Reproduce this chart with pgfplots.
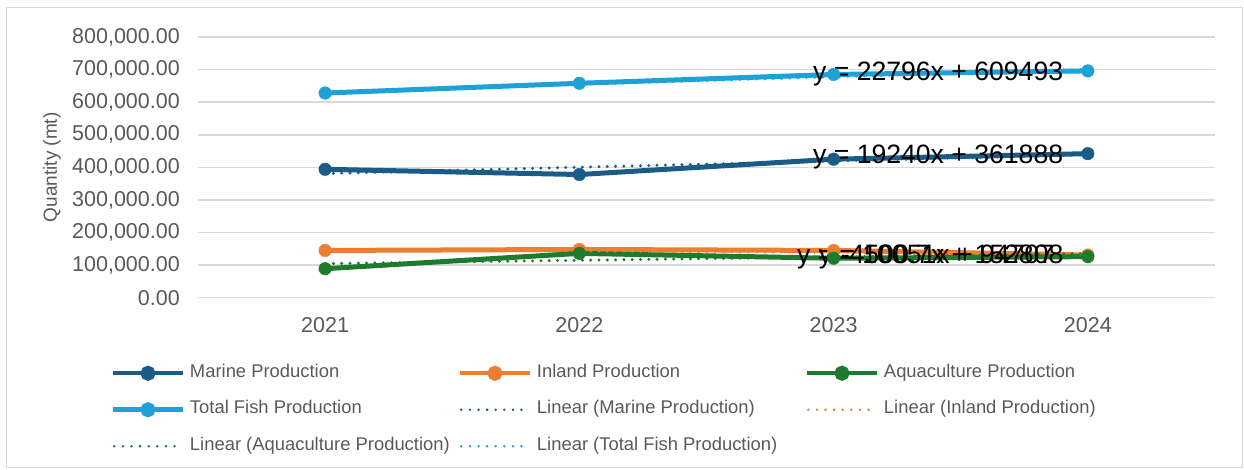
\documentclass[border=0pt]{standalone}
\usepackage{pgfplots}
\pgfplotsset{compat=1.18}
\usepackage{fontspec}
\setmainfont{Liberation Sans}

\definecolor{marine}{HTML}{1B5B87}
\definecolor{inland}{HTML}{ED7D31}
\definecolor{aqua}{HTML}{1E7A2C}
\definecolor{total}{HTML}{1EA1D9}
\definecolor{gridgray}{HTML}{D9D9D9}
\definecolor{textgray}{HTML}{595959}

\newcommand\tickfont{\fontsize{21.5}{25}\selectfont}
\newcommand\legfont{\fontsize{18.4}{22}\selectfont}
\newcommand\labfont{\fontsize{19}{22}\selectfont}
\newcommand\eqfont{\fontsize{26.6}{30}\selectfont}
\newcommand\legtxt[1]{\makebox[263pt][l]{#1}}

\pgfplotsset{
  series/.style={color=#1, line width=5pt, mark=*, mark size=6.3pt,
    mark options={solid, line width=0.4pt, fill=#1, draw=#1},
    legend image code/.code={
      \draw[##1, line width=4.5pt, mark=none] (0pt,0pt) -- (70pt,0pt);
      \fill[##1] (35pt,0pt) circle (5pt);}},
  trend/.style={color=#1, line width=3.3pt, line cap=round,
    dash pattern=on 0pt off 8.3pt, mark=none,
    legend image code/.code={
      \draw[##1, line width=2.8pt, dash pattern=on 0pt off 8.6pt] (1.35pt,0pt) -- (70pt,0pt);}},
}

\begin{document}
\begin{tikzpicture}
\useasboundingbox (0,0) rectangle (1244pt,470pt);
\draw[gridgray, line width=1pt] (6.7pt,2.5pt) rectangle (1242.7pt,462.7pt);
\begin{axis}[
  at={(198pt,172.3pt)}, anchor=south west,
  scale only axis, width=1017pt, height=260.7pt,
  xmin=0.5, xmax=4.5, ymin=0, ymax=800000,
  xtick={1,2,3,4}, xticklabels={2021,2022,2023,2024},
  ytick={0,100000,...,800000},
  scaled y ticks=false,
  yticklabel style={/pgf/number format/fixed, /pgf/number format/fixed zerofill,
    /pgf/number format/precision=2, /pgf/number format/1000 sep={,},
    /pgf/number format/assume math mode=true,
    anchor=east, xshift=-18pt},
  xticklabel style={/pgf/number format/assume math mode=true,
    anchor=north, yshift=-19.5pt},
  tick label style={font=\tickfont, text=textgray, inner sep=0pt},
  axis line style={draw=none}, tick style={draw=none},
  ymajorgrids, major grid style={gridgray, line width=1.5pt},
  ylabel={Quantity (mt)},
  every axis y label/.style={at={(axis description cs:-0.1436,0.5)},
    rotate=90, anchor=center, font=\labfont, text=textgray},
  clip=false,
  legend columns=3, legend cell align=left,
  legend style={at={(axis description cs:-0.0858,-0.2547)}, anchor=north west,
    draw=none, fill=none, inner sep=0pt, outer sep=0pt,
    font=\legfont, text=textgray,
    /tikz/column sep=4.75pt, /tikz/row sep=18.2pt,
    nodes={inner sep=0pt, text height=13.2pt, text depth=5.1pt}},
]
% production series
\addplot[series=marine] coordinates {(1,394000) (2,378000) (3,425000) (4,442000)};
\addlegendentry{\legtxt{Marine Production}}
\addplot[series=inland] coordinates {(1,145000) (2,148000) (3,145000) (4,131000)};
\addlegendentry{\legtxt{Inland Production}}
\addplot[series=aqua] coordinates {(1,89000) (2,136000) (3,121000) (4,126000)};
\addlegendentry{\legtxt{Aquaculture Production}}
\addplot[series=total] coordinates {(1,628000) (2,658000) (3,685000) (4,696000)};
\addlegendentry{\legtxt{Total Fish Production}}
% linear trend lines, end points from the fitted equations
\addplot[trend=marine] coordinates {(1,381128) (4,438848)};
\addlegendentry{\legtxt{Linear (Marine Production)}}
\addplot[trend=inland] coordinates {(1,148307) (4,134805)};
\addlegendentry{\legtxt{Linear (Inland Production)}}
\addplot[trend=aqua] coordinates {(1,104758) (4,134911)};
\addlegendentry{\legtxt{Linear (Aquaculture Production)}}
\addplot[trend=total] coordinates {(1,632289) (4,700677)};
\addlegendentry{\legtxt{Linear (Total Fish Production)}}
% trend equations
\begin{scope}[every node/.style={anchor=base west, inner sep=0pt, font=\eqfont, text=black}]
\node at (axis cs:2.9189,667900) {y = 22796x + 609493};
\node at (axis cs:2.9189,412400) {y = 19240x + 361888};
\node at (axis cs:2.856,105560) {y = -4500.7x + 152808};
\node at (axis cs:2.9409,105560) {y = 10051x + 94707};
\end{scope}
\end{axis}
\end{tikzpicture}
\end{document}
